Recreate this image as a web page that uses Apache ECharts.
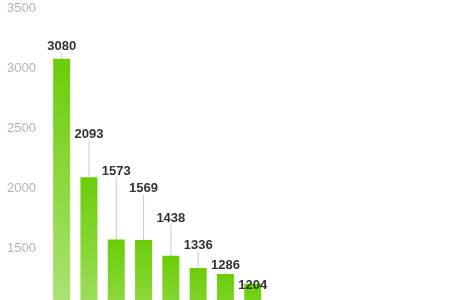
<!DOCTYPE html>
<html>
<head>
<meta charset="utf-8">
<script src="https://cdn.jsdelivr.net/npm/echarts@6/dist/echarts.min.js"></script>
<style>
html,body{margin:0;padding:0;background:#fff;}
#chart{width:450px;height:300px;}
</style>
</head>
<body>
<div id="chart"></div>
<script>
// Data
var categories = ['A', 'B', 'C', 'D', 'E', 'F', 'G', 'H'];
var values = [3080, 2093, 1573, 1569, 1438, 1336, 1286, 1204];
var yTicks = [0, 500, 1000, 1500, 2000, 2500, 3000, 3500];

// Label vertical shifts (style)
var labelShift = [-1, -31, -57, -40, -26, -11, 3, 13];

var chart = echarts.init(document.getElementById('chart'), null, {renderer: 'canvas'});
var option = {
  animation: false,
  backgroundColor: '#ffffff',
  grid: {left: 48, top: 8.3, width: 218.4, height: 420, containLabel: false, outerBoundsMode: 'none'},
  xAxis: {
    type: 'category',
    data: categories,
    axisLine: {show: false},
    axisTick: {show: false},
    axisLabel: {show: false}
  },
  yAxis: {
    type: 'value',
    min: yTicks[0],
    max: yTicks[yTicks.length - 1],
    interval: 500,
    axisLine: {show: false},
    axisTick: {show: false},
    splitLine: {show: false},
    axisLabel: {
      color: '#b3b3b3',
      fontSize: 13,
      margin: 12,
      fontFamily: 'Liberation Sans, Arial, sans-serif',
      formatter: function (v) { return String(v); }
    }
  },
  series: [{
    type: 'bar',
    data: values,
    barWidth: 17,
    itemStyle: {
      color: new echarts.graphic.LinearGradient(0, 0, 0, 1, [
        {offset: 0, color: '#6bcd08'},
        {offset: 1, color: '#cdeeaa'}
      ])
    },
    label: {
      show: true,
      position: 'top',
      distance: 5,
      color: '#333333',
      fontSize: 13,
      fontWeight: 'bold',
      fontFamily: 'Liberation Sans, Arial, sans-serif'
    },
    labelLine: {
      show: true,
      lineStyle: {color: '#cccccc', width: 1}
    },
    labelLayout: function (params) {
      return {dy: labelShift[params.dataIndex]};
    }
  }]
};
chart.setOption(option);
</script>
</body>
</html>
